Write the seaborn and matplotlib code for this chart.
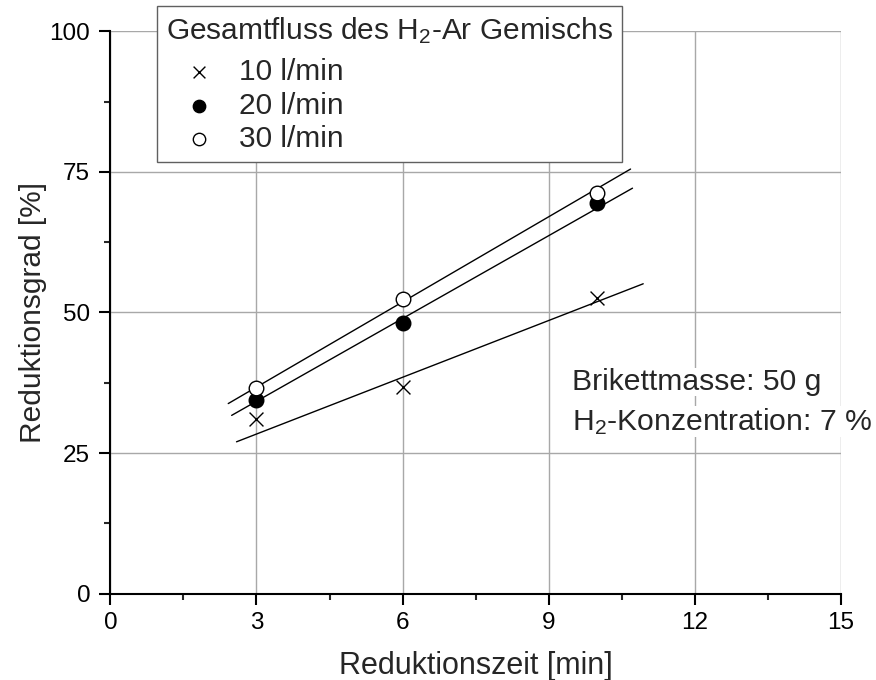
import numpy as np
import pandas as pd
import matplotlib
matplotlib.use('Agg')
import matplotlib.pyplot as plt
from matplotlib.ticker import MultipleLocator
import seaborn as sns

sns.set_style('white')
plt.rcParams['font.family'] = ['Liberation Sans', 'DejaVu Sans']
plt.rcParams['mathtext.fontset'] = 'custom'
plt.rcParams['mathtext.rm'] = 'Liberation Sans'
plt.rcParams['mathtext.it'] = 'Liberation Sans:italic'

# measured values
zeit = [3, 6, 10]
grad_10 = [31.1, 36.7, 52.5]
grad_20 = [34.4, 48.1, 69.4]
grad_30 = [36.6, 52.4, 71.3]

# fitted lines (start/end)
fit_x_10 = [2.59, 10.94]
fit_y_10 = [27.0, 55.1]
fit_x_20 = [2.49, 10.72]
fit_y_20 = [31.7, 72.1]
fit_x_30 = [2.42, 10.68]
fit_y_30 = [33.8, 75.5]

labels = ['10 l/min', '20 l/min', '30 l/min']

fig = plt.figure(figsize=(8.76, 6.8), dpi=100)
ax = fig.add_axes([0.126, 0.127, 0.834, 0.827])

# fit lines
for fx, fy in [(fit_x_10, fit_y_10), (fit_x_20, fit_y_20), (fit_x_30, fit_y_30)]:
    sns.lineplot(x=fx, y=fy, ax=ax, color='black', linewidth=1.0, legend=False, zorder=3)

sns.scatterplot(x=zeit, y=grad_10, ax=ax, marker='x', s=100, color='black',
                linewidth=1.0, label=labels[0], zorder=4)
sns.scatterplot(x=zeit, y=grad_20, ax=ax, marker='o', s=110, color='black',
                edgecolor='black', linewidth=1.0, label=labels[1], zorder=4)
sns.scatterplot(x=zeit, y=grad_30, ax=ax, marker='o', s=110, facecolor='white',
                edgecolor='black', linewidth=1.0, label=labels[2], zorder=4)

ax.set_xlim(0, 15)
ax.set_ylim(0, 100)
ax.xaxis.set_major_locator(MultipleLocator(3))
ax.xaxis.set_minor_locator(MultipleLocator(1.5))
ax.yaxis.set_major_locator(MultipleLocator(25))
ax.yaxis.set_minor_locator(MultipleLocator(12.5))

ax.grid(True, which='major', color='#a8a8a8', linewidth=1.0)
ax.set_axisbelow(True)
for side in ['top', 'right']:
    ax.spines[side].set_visible(False)
for side in ['left', 'bottom']:
    ax.spines[side].set_color('black')
    ax.spines[side].set_linewidth(1.5)

ax.tick_params(which='major', direction='out', length=8, width=1.5, labelsize=17.5,
               bottom=True, left=True, colors='black')
ax.tick_params(axis='x', which='major', pad=5.5)
ax.tick_params(axis='y', which='major', pad=6.5)
ax.tick_params(which='minor', direction='out', length=4, width=1.5, bottom=True, left=True)

ax.set_xlabel('Reduktionszeit [min]', fontsize=22, labelpad=12)
ax.set_ylabel('Reduktionsgrad [%]', fontsize=21.5, labelpad=2)

note_kw = dict(transform=fig.transFigure, fontsize=21.7, va='baseline', ha='left',
               bbox=dict(facecolor='white', edgecolor='none', pad=0))
ax.text(0.6526, 0.4265, 'Brikettmasse: 50 g', **note_kw)
ax.text(0.6526, 0.3676, 'H$_2$-Konzentration: 7 %', **note_kw)

leg = ax.legend(title='Gesamtfluss des H$_2$-Ar Gemischs', loc='upper left',
                bbox_to_anchor=(0.1792, 0.9912), bbox_transform=fig.transFigure,
                fontsize=21.5, title_fontsize=21.5, frameon=True, fancybox=False,
                edgecolor='#606060', framealpha=1, borderpad=0.3, labelspacing=0.18,
                handletextpad=0.25, borderaxespad=0, handlelength=2.2, markerscale=0.85,
                alignment='left')
leg.get_frame().set_linewidth(1.0)
# a bit more room between the title and the first entry
leg._legend_box.sep = 9

fig.savefig('out.png', dpi=100)
